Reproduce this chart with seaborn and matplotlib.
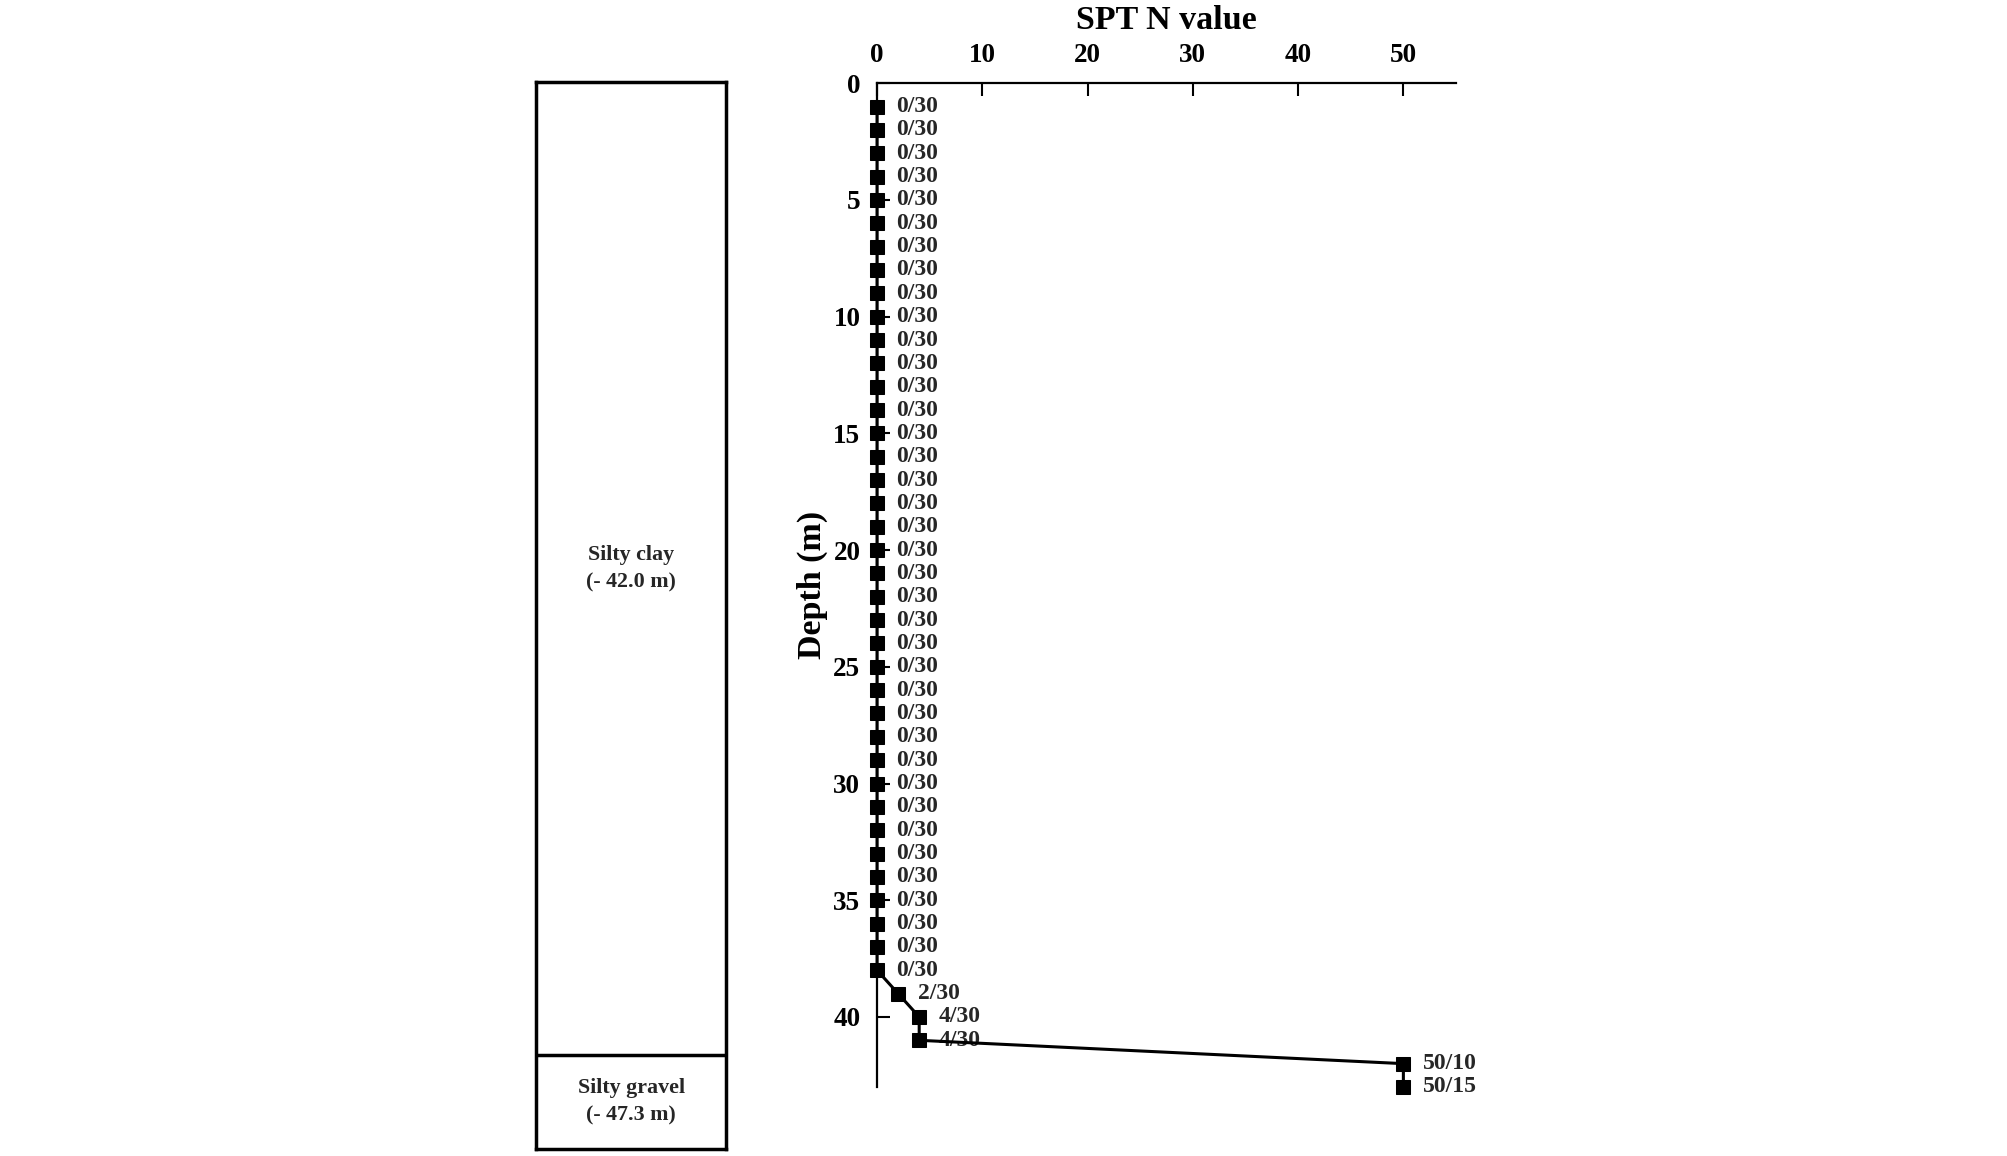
import numpy as np
import pandas as pd
import matplotlib
matplotlib.use('Agg')
import matplotlib.pyplot as plt
import seaborn as sns

# SPT data
depth = list(range(1, 44))
n_value = [0] * 38 + [2, 4, 4, 50, 50]
blow_labels = ['0/30'] * 38 + ['2/30', '4/30', '4/30', '50/10', '50/15']

# soil column
layer_names = ['Silty clay\n(- 42.0 m)', 'Silty gravel\n(- 47.3 m)']
layer_tops = [0, 42.0]
column_bottom = 46.05

sns.set_theme(style='white')
plt.rcParams['font.family'] = ['Liberation Serif', 'DejaVu Serif']
plt.rcParams['font.weight'] = 'bold'

fig = plt.figure(figsize=(20.08, 11.56), dpi=100)

# SPT profile
ax = fig.add_axes([0.4368, 0.0597, 0.2883, 0.8683])
df = pd.DataFrame({'depth': depth, 'N': n_value})
sns.lineplot(data=df, x='N', y='depth', sort=False, estimator=None, ax=ax,
             color='black', linewidth=2.2, marker='s', markersize=9.5,
             markeredgecolor='black', markerfacecolor='black', clip_on=False,
             zorder=5)
for d, n, lab in zip(depth, n_value, blow_labels):
    ax.annotate(lab, (n, d), xytext=(14, 0), textcoords='offset points',
                ha='left', va='center', fontsize=17, fontweight='bold')

ax.set_xlim(0, 55)
ax.set_ylim(43.0, 0)
ax.set_xticks([0, 10, 20, 30, 40, 50])
ax.set_yticks([0, 5, 10, 15, 20, 25, 30, 35, 40])
ax.xaxis.tick_top()
ax.xaxis.set_label_position('top')
ax.tick_params(axis='x', direction='in', length=9, width=1.5, labelsize=19.5, pad=11,
               top=True, bottom=False, colors='black')
ax.tick_params(axis='y', direction='in', length=9, width=1.5, labelsize=19.5, pad=12,
               left=True, colors='black')
for t in ax.get_xticklabels() + ax.get_yticklabels():
    t.set_fontweight('bold')
ax.set_xlabel('SPT N value', fontsize=24.5, fontweight='bold', labelpad=10, color='black')
ax.set_ylabel('Depth (m)', fontsize=24.5, fontweight='bold', labelpad=4, color='black')
for side in ['right', 'bottom']:
    ax.spines[side].set_visible(False)
for side in ['top', 'left']:
    ax.spines[side].set_color('black')
    ax.spines[side].set_linewidth(1.6)

# soil column
cax = fig.add_axes([0.267, 0.0061, 0.0946, 0.9229])
cax.set_xlim(0, 1)
cax.set_ylim(column_bottom, 0)
cax.set_xticks([])
cax.set_yticks([])
for s in cax.spines.values():
    s.set_color('black')
    s.set_linewidth(2.5)
bounds = layer_tops + [column_bottom]
for i, name in enumerate(layer_names):
    if i > 0:
        cax.axhline(layer_tops[i], color='black', linewidth=2.5)
    mid = (bounds[i] + bounds[i + 1]) / 2
    cax.text(0.5, mid, name, ha='center', va='center', fontsize=15.8,
             fontweight='bold', linespacing=1.5)

fig.savefig('out.png', dpi=100)
